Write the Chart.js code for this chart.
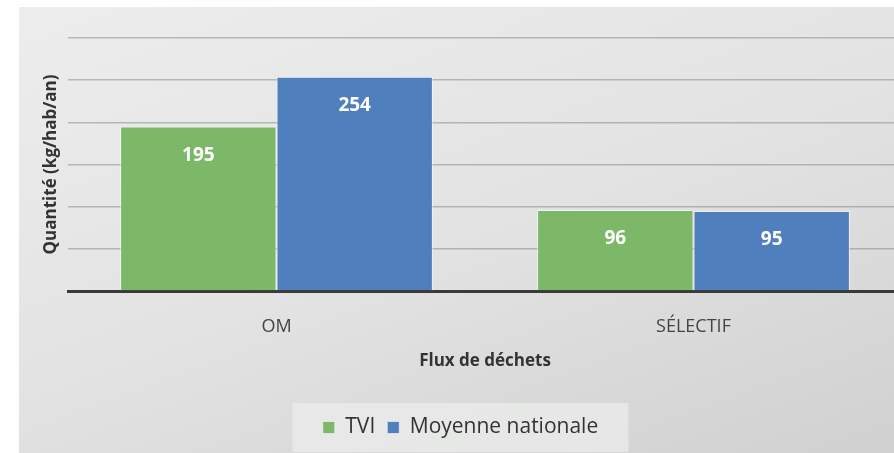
<!DOCTYPE html>
<html>
<head>
<meta charset="utf-8">
<script src="https://cdn.jsdelivr.net/npm/chart.js@4"></script>
<style>
  html, body { margin: 0; padding: 0; background: #fff; overflow: hidden; }
  #wrap {
    position: absolute; left: 19px; top: 7px; width: 890px; height: 446px;
    background: linear-gradient(160deg, #ededed 0%, #e2e3e2 50%, #cfd0cf 100%);
  }
  canvas { display: block; }
</style>
</head>
<body>
<div id="wrap"><canvas id="myBarChart" width="890" height="446"></canvas></div>
<script>
const categories = ["OM", "SÉLECTIF"];
const tviValues = [195, 96];
const nationalValues = [254, 95];
const seriesNames = ["TVI", "Moyenne nationale"];

// white value labels near the top of each bar
const valueLabels = {
  id: "valueLabels",
  afterDatasetsDraw(chart) {
    const ctx = chart.ctx;
    ctx.save();
    ctx.fillStyle = "#ffffff";
    ctx.font = "bold 19px 'Open Sans'";
    ctx.textAlign = "center";
    ctx.textBaseline = "middle";
    chart.data.datasets.forEach((ds, i) => {
      chart.getDatasetMeta(i).data.forEach((bar, j) => {
        ctx.fillText(ds.data[j], bar.x, bar.y + 29);
      });
    });
    ctx.restore();
  }
};

// lighter box behind the legend
const legendBox = {
  id: "legendBox",
  beforeDraw(chart) {
    const l = chart.legend;
    if (!l) return;
    const ctx = chart.ctx;
    ctx.save();
    ctx.fillStyle = "rgba(235,236,235,0.75)";
    const w = 336;
    const x = (l.left + l.right) / 2 - w / 2;
    ctx.fillRect(x, l.top - 2, w, l.height + 6);
    ctx.restore();
  }
};

const barChart = () => {
  const data = {
    labels: categories,
    datasets: [
      {
        label: seriesNames[0],
        data: tviValues,
        backgroundColor: "#7db868",
        borderColor: "rgba(255,255,255,0.55)",
        borderWidth: 1,
      },
      {
        label: seriesNames[1],
        data: nationalValues,
        backgroundColor: "#4f80bd",
        borderColor: "rgba(255,255,255,0.55)",
        borderWidth: 1,
      },
    ],
  };

  const config = {
    type: "bar",
    data: data,
    options: {
      responsive: false,
      animation: false,
      layout: { padding: { left: 0, right: 7, top: 31, bottom: 5 } },
      datasets: { bar: { categoryPercentage: 0.75, barPercentage: 1.0 } },
      plugins: {
        tooltip: { enabled: false },
        legend: {
          position: "bottom",
          labels: {
            font: { family: "'Open Sans'", size: 21 },
            color: "#333",
            boxWidth: 12,
            boxHeight: 12,
            padding: 12,
            useBorderRadius: false,
          },
        },
      },
      scales: {
        x: {
          grid: { display: false },
          border: { display: true, color: "#3a3a3a", width: 3 },
          ticks: { font: { family: "'Open Sans'", size: 18 }, color: "#444", padding: 17 },
          title: {
            display: true,
            text: "Flux de déchets",
            font: { family: "'Open Sans'", size: 17, weight: "bold" },
            color: "#333",
            padding: { top: 6, bottom: 34 },
          },
          afterFit: (s) => { s.height = 114; },
        },
        y: {
          min: 0,
          max: 300,
          z: 1,
          ticks: { display: false, stepSize: 50 },
          grid: { color: "rgba(120,120,120,0.45)", lineWidth: 1.5, drawTicks: false },
          border: { display: false },
          title: {
            display: true,
            text: "Quantité (kg/hab/an)",
            font: { family: "'Open Sans'", size: 17, weight: "bold" },
            color: "#333",
            padding: { top: 22, bottom: 0 },
          },
          afterFit: (s) => { s.width = 49; },
        },
      },
    },
    plugins: [legendBox, valueLabels],
  };

  const ctx = document.getElementById("myBarChart").getContext("2d");
  new Chart(ctx, config);
};

barChart();
</script>
</body>
</html>
